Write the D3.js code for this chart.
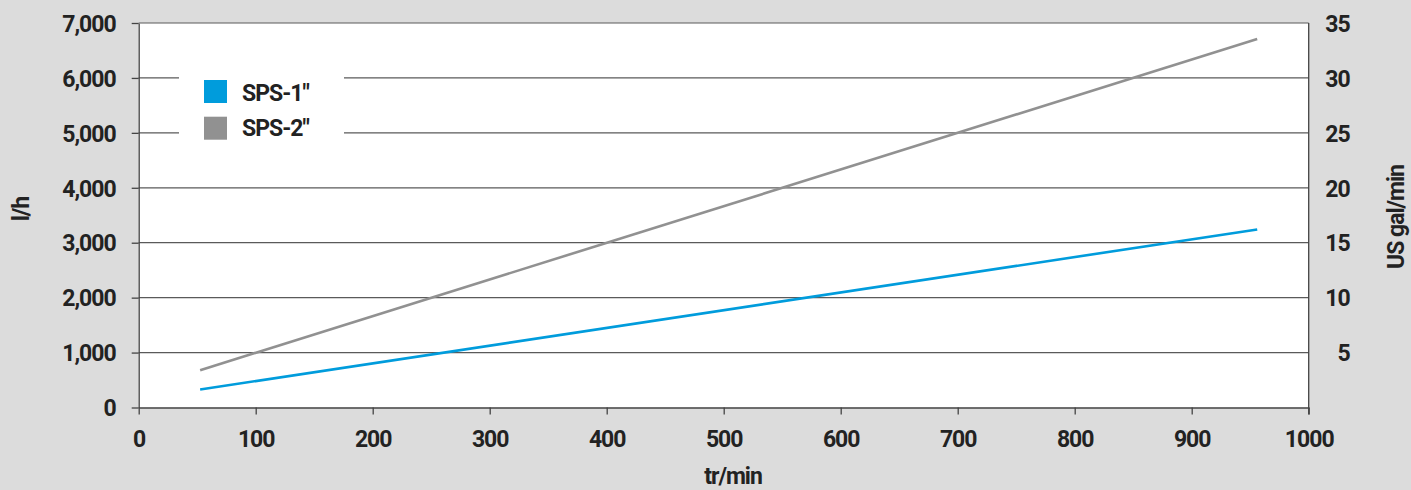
<!DOCTYPE html>
<html>
<head>
<meta charset="utf-8">
<script src="https://cdn.jsdelivr.net/npm/d3@7"></script>
<style>
  body { margin: 0; background: #dcdcdc; }
  svg { display: block; font-family: "Roboto", sans-serif; font-weight: bold; letter-spacing: -1px; }
</style>
</head>
<body>
<svg id="chart" width="1411" height="490"></svg>
<script>
const series = ["SPS-1\"", "SPS-2\""];
const colors = ["#009cdc", "#919191"];
const rpm = [52.5, 956];
const sps1 = [328, 3242];
const sps2 = [679, 6709];
const xTicks = [0, 100, 200, 300, 400, 500, 600, 700, 800, 900, 1000];
const yTicks = [0, 1000, 2000, 3000, 4000, 5000, 6000, 7000];
const y2Ticks = [5, 10, 15, 20, 25, 30, 35];

const chart = d3.select("#chart");
const plotLeft = 138.7, plotRight = 1308.7, plotTop = 23, plotBottom = 407.5;
const fontSize = "23px";

const xScale = d3.scaleLinear().domain([0, 1000]).range([plotLeft, plotRight]);
const yScale = d3.scaleLinear().domain([0, 7000]).range([plotBottom, plotTop]);
const y2Scale = d3.scaleLinear().domain([0, 35]).range([plotBottom, plotTop]);

chart.append("rect")
  .attr("x", plotLeft).attr("y", plotTop)
  .attr("width", plotRight - plotLeft).attr("height", plotBottom - plotTop)
  .attr("fill", "#fff");

// gridlines
chart.append("g")
  .selectAll("line")
  .data(yTicks.filter((d) => d > 0))
  .enter()
  .append("line")
  .attr("x1", plotLeft).attr("x2", plotRight)
  .attr("y1", (d) => yScale(d)).attr("y2", (d) => yScale(d))
  .attr("stroke", "#5a5a5a").attr("stroke-width", 1.2);

// legend box hides part of the gridlines
chart.append("rect")
  .attr("x", 179).attr("y", 60).attr("width", 165).attr("height", 90)
  .attr("fill", "#fff");

const line = d3.line().x((d) => xScale(d[0])).y((d) => yScale(d[1]));
[sps1, sps2].forEach((vals, i) => {
  chart.append("path")
    .datum(rpm.map((r, j) => [r, vals[j]]))
    .attr("d", line)
    .attr("fill", "none")
    .attr("stroke", colors[i])
    .attr("stroke-width", 2.6);
});

const xAxis = d3.axisBottom(xScale).tickValues(xTicks).tickSize(7).tickPadding(6).tickSizeOuter(0).tickFormat(d3.format("d"));
const yAxis = d3.axisLeft(yScale).tickValues(yTicks).tickSize(7).tickPadding(16).tickSizeOuter(0).tickFormat(d3.format(","));
const y2Axis = d3.axisRight(y2Scale).tickValues(y2Ticks).tickSize(0).tickPadding(41).tickSizeOuter(0);

const gx = chart.append("g").attr("transform", `translate(0, ${plotBottom})`).call(xAxis);
const gy = chart.append("g").attr("transform", `translate(${plotLeft}, 0)`).call(yAxis);
const gy2 = chart.append("g").attr("transform", `translate(${plotRight}, 0)`).call(y2Axis);

[gx, gy, gy2].forEach((g) => {
  g.selectAll("path, line").attr("stroke", "#444").attr("stroke-width", 1.3);
  g.selectAll("text").attr("fill", "#222").style("font-size", fontSize);
  g.attr("font-family", null).attr("font-size", null);
});
gx.selectAll("text").attr("dy", "26px");
gy.selectAll("text").attr("dy", "0.36em");
gy2.selectAll("text").attr("text-anchor", "end").attr("dy", "0.36em");
gy2.select(".domain").attr("d", `M0,${plotTop}V${plotBottom + 7}`);

// legend
series.forEach((s, i) => {
  chart.append("rect")
    .attr("x", 204).attr("y", 80 + i * 36.7)
    .attr("width", 23).attr("height", 23)
    .attr("fill", colors[i]);
  chart.append("text")
    .attr("x", 242).attr("y", 100.7 + i * 35.5)
    .style("font-size", fontSize)
    .attr("fill", "#222")
    .text(s);
});

chart.append("text")
  .attr("x", 733).attr("y", 484)
  .attr("text-anchor", "middle")
  .style("font-size", fontSize)
  .attr("fill", "#222")
  .text("tr/min");

chart.append("text")
  .attr("x", -209).attr("y", 29)
  .attr("text-anchor", "middle")
  .attr("transform", "rotate(-90)")
  .style("font-size", fontSize)
  .attr("fill", "#222")
  .text("l/h");

chart.append("text")
  .attr("x", -217).attr("y", 1404)
  .attr("text-anchor", "middle")
  .attr("transform", "rotate(-90)")
  .style("font-size", fontSize)
  .attr("fill", "#222")
  .text("US gal/min");
</script>
</body>
</html>
